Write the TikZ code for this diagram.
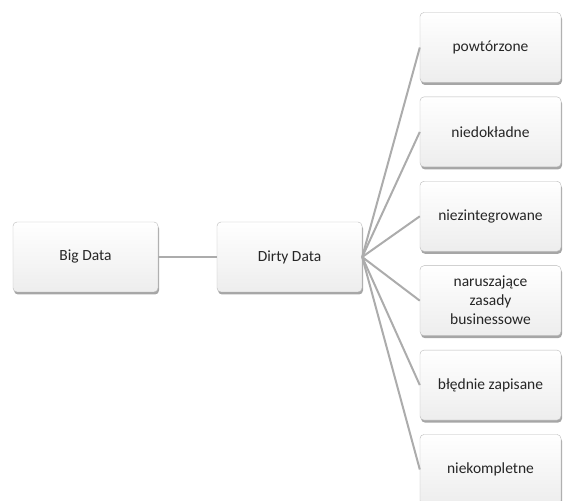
\documentclass[tikz,border=0pt]{standalone}
\usepackage{fontspec}
\setmainfont{Carlito}
\usetikzlibrary{positioning,shadows}

\begin{document}
\begin{tikzpicture}[x=1pt,y=1pt,node distance=14pt,
  box/.style={draw=gray!55,rounded corners=4pt,top color=white,bottom color=gray!14,
    minimum width=145pt,minimum height=70pt,align=center,
    font=\fontsize{15.5}{19}\selectfont,text=black!85,
    drop shadow={shadow xshift=1pt,shadow yshift=-2.5pt,opacity=0.7}},
  item/.style={box,minimum width=141pt},
  link/.style={draw=gray!65,line width=2pt}]

  \useasboundingbox (0,0) rectangle (563,501);

  \node[box]  (big)   at (85.5,244)  {Big Data};
  \node[box]  (dirty) at (289.5,244) {Dirty Data};

  \node[item] (pow)  at (490.5,453.5) {powtórzone};
  \node[item] (nied) [below=of pow]   {niedokładne};
  \node[item] (niez) [below=of nied]  {niezintegrowane};
  \node[item] (nar)  [below=of niez]  {naruszające\\zasady\\businessowe};
  \node[item] (bled) [below=of nar]   {błędnie zapisane};
  \node[item] (niek) [below=of bled]  {niekompletne};

  \path[link] (big)   edge (dirty)
        (dirty.east)  edge (pow.west)
                      edge (nied.west)
                      edge (niez.west)
                      edge (nar.west)
                      edge (bled.west)
                      edge (niek.west);
\end{tikzpicture}
\end{document}
